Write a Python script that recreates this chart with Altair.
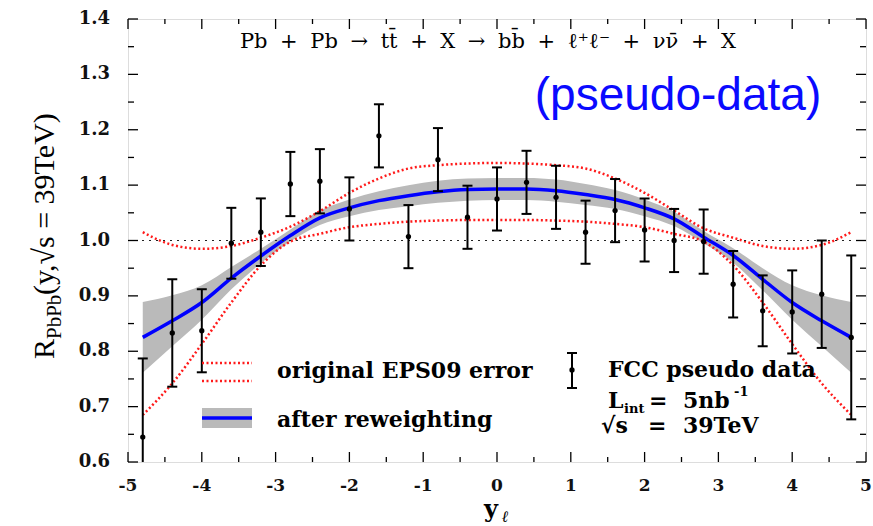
import altair as alt
import pandas as pd

# ---------------- data ----------------
y_pts = [-4.8, -4.4, -4.0, -3.6, -3.2, -2.8, -2.4, -2.0, -1.6, -1.2, -0.8, -0.4,
         0.0, 0.4, 0.8, 1.2, 1.6, 2.0, 2.4, 2.8, 3.2, 3.6, 4.0, 4.4, 4.8]
r_pts = [0.645, 0.833, 0.837, 0.995, 1.015, 1.102, 1.107, 1.057, 1.189, 1.007, 1.146, 1.042,
         1.075, 1.105, 1.078, 1.015, 1.054, 1.019, 1.000, 0.998, 0.921, 0.873, 0.871, 0.903, 0.825]
r_err = [0.142, 0.097, 0.075, 0.064, 0.061, 0.058, 0.058, 0.057, 0.057, 0.057, 0.057, 0.057,
         0.057, 0.057, 0.057, 0.057, 0.057, 0.057, 0.057, 0.058, 0.060, 0.064, 0.075, 0.097, 0.148]

y_curve = [-4.8, -4.4, -4.0, -3.6, -3.2, -2.8, -2.4, -2.0, -1.6, -1.2, -0.8, -0.4,
           0.0, 0.4, 0.8, 1.2, 1.6, 2.0, 2.4, 2.8, 3.2, 3.6, 4.0, 4.4, 4.8]
central = [0.825, 0.855, 0.888, 0.932, 0.972, 1.009, 1.041, 1.059, 1.072, 1.081, 1.088, 1.092,
           1.093, 1.093, 1.090, 1.083, 1.074, 1.059, 1.039, 1.006, 0.973, 0.930, 0.888, 0.855, 0.825]
band_hi = [0.889, 0.901, 0.919, 0.952, 0.985, 1.020, 1.054, 1.074, 1.089, 1.100, 1.108, 1.112,
           1.113, 1.113, 1.110, 1.102, 1.091, 1.074, 1.052, 1.017, 0.986, 0.950, 0.919, 0.901, 0.889]
band_lo = [0.761, 0.809, 0.857, 0.912, 0.959, 0.998, 1.028, 1.044, 1.055, 1.062, 1.068, 1.072,
           1.073, 1.073, 1.070, 1.064, 1.057, 1.044, 1.026, 0.995, 0.960, 0.910, 0.857, 0.809, 0.761]
eps_hi = [1.015, 0.992, 0.985, 0.990, 1.005, 1.025, 1.053, 1.086, 1.112, 1.130, 1.136, 1.139,
          1.140, 1.139, 1.136, 1.130, 1.112, 1.086, 1.054, 1.022, 1.005, 0.990, 0.985, 0.992, 1.015]
eps_lo = [0.685, 0.742, 0.813, 0.888, 0.955, 0.998, 1.012, 1.024, 1.030, 1.034, 1.036, 1.037,
          1.037, 1.037, 1.036, 1.034, 1.030, 1.024, 1.012, 0.998, 0.955, 0.888, 0.813, 0.742, 0.685]

x_major = [-5, -4, -3, -2, -1, 0, 1, 2, 3, 4, 5]
x_labels = ["-5", "-4", "-3", "-2", "-1", "0", "1", "2", "3", "4", "5"]
x_minor = [-4.5, -3.5, -2.5, -1.5, -0.5, 0.5, 1.5, 2.5, 3.5, 4.5]
y_major = [0.6, 0.7, 0.8, 0.9, 1.0, 1.1, 1.2, 1.3, 1.4]
y_labels = ["0.6", "0.7", "0.8", "0.9", "1.0", "1.1", "1.2", "1.3", "1.4"]
y_minor = [0.65, 0.75, 0.85, 0.95, 1.05, 1.15, 1.25, 1.35]

# ---------------- layout ----------------
L, T, W, H = 128, 19, 738, 443
SERIF = "DejaVu Serif"
TIMES = "Liberation Serif"
RED = "#ff1a1a"
GREY = "#bababa"

pts = pd.DataFrame({"x": y_pts, "r": r_pts, "err": r_err})
pts["lo"] = pts["r"] - pts["err"]
pts["hi"] = pts["r"] + pts["err"]
curve = pd.DataFrame({"x": y_curve, "c": central, "bl": band_lo, "bh": band_hi,
                      "el": eps_lo, "eh": eps_hi})

xs = alt.Scale(domain=[-5, 5], nice=False, zero=False)
ys = alt.Scale(domain=[0.6, 1.4], nice=False, zero=False)
Xn = alt.X("x:Q", scale=xs, axis=None)


def Yq(field):
    return alt.Y(field, scale=ys, axis=None)


band = alt.Chart(curve).mark_area(color=GREY, opacity=1, interpolate="monotone", clip=True).encode(
    x=Xn, y=Yq("bl:Q"), y2="bh:Q")
blue = alt.Chart(curve).mark_line(color="#0000ff", strokeWidth=3.5, interpolate="monotone",
                                  clip=True).encode(x=Xn, y=Yq("c:Q"))
red_hi = alt.Chart(curve).mark_line(color=RED, strokeWidth=2.5, strokeDash=[2, 2.5],
                                    interpolate="monotone", clip=True).encode(x=Xn, y=Yq("eh:Q"))
red_lo = alt.Chart(curve).mark_line(color=RED, strokeWidth=2.5, strokeDash=[2, 2.5],
                                    interpolate="monotone", clip=True).encode(x=Xn, y=Yq("el:Q"))

one_df = pd.DataFrame({"v": [1.0]})
unity = alt.Chart(one_df).mark_rule(color="#222", strokeWidth=1, strokeDash=[2, 5]).encode(
    y=Yq("v:Q"), x=alt.value(0), x2=alt.value(W))

bars = alt.Chart(pts).mark_rule(color="black", strokeWidth=2, clip=True).encode(
    x=Xn, y=Yq("lo:Q"), y2="hi:Q")
cap_hi = alt.Chart(pts).mark_tick(color="black", orient="horizontal", size=10, thickness=2,
                                  opacity=1, clip=True).encode(x=Xn, y=Yq("hi:Q"))
cap_lo = alt.Chart(pts).mark_tick(color="black", orient="horizontal", size=10, thickness=2,
                                  opacity=1, clip=True).encode(x=Xn, y=Yq("lo:Q"))
dots = alt.Chart(pts).mark_point(color="black", filled=True, opacity=1, size=28, clip=True).encode(
    x=Xn, y=Yq("r:Q"))

# ---------------- frame ticks (inward) and tick labels ----------------
xmaj = pd.DataFrame({"x": x_major, "lab": x_labels})
xmin = pd.DataFrame({"x": x_minor})
ymaj = pd.DataFrame({"v": y_major, "lab": y_labels})
ymin = pd.DataFrame({"v": y_minor})
tick_layers = []
for df, ln in ((xmaj, 10), (xmin, 5)):
    tick_layers.append(alt.Chart(df).mark_rule(color="black", strokeWidth=1.3).encode(
        x=Xn, y=alt.value(H), y2=alt.value(H - ln)))
    tick_layers.append(alt.Chart(df).mark_rule(color="black", strokeWidth=1.3).encode(
        x=Xn, y=alt.value(0), y2=alt.value(ln)))
for df, ln in ((ymaj, 10), (ymin, 6)):
    tick_layers.append(alt.Chart(df).mark_rule(color="black", strokeWidth=1.3).encode(
        y=Yq("v:Q"), x=alt.value(0), x2=alt.value(ln)))
    tick_layers.append(alt.Chart(df).mark_rule(color="black", strokeWidth=1.3).encode(
        y=Yq("v:Q"), x=alt.value(W), x2=alt.value(W - ln)))

xlab = alt.Chart(xmaj).mark_text(font=SERIF, fontSize=17, fontWeight="bold", color="#111",
                                 align="center", baseline="alphabetic").encode(
    x=Xn, y=alt.value(491 - T), text="lab:N")
ylab = alt.Chart(ymaj).mark_text(font=SERIF, fontSize=18, fontWeight="bold", color="#111",
                                 align="right", baseline="middle", dx=-18).encode(
    y=Yq("v:Q"), x=alt.value(0), text="lab:N")

# ---------------- texts ----------------
one = pd.DataFrame({"a": [0]})


def txt(text, px, py, size, font=SERIF, color="black", weight="normal", angle=0,
        align="left", style="normal"):
    kw = dict(text=text, align=align, baseline="alphabetic", font=font, fontSize=size,
              color=color, fontWeight=weight, fontStyle=style)
    if angle:
        kw["angle"] = angle
    return alt.Chart(one).mark_text(**kw).encode(x=alt.value(px - L), y=alt.value(py - T))


def hline(px1, px2, py, color, width, dash=None):
    kw = dict(color=color, strokeWidth=width)
    if dash:
        kw["strokeDash"] = dash
    return alt.Chart(one).mark_rule(**kw).encode(
        x=alt.value(px1 - L), x2=alt.value(px2 - L), y=alt.value(py - T))


S = "\u2002\u200a"  # wide math-like spacing
title_str = ("Pb" + S + "+" + S + "Pb" + S + "\u2192" + S + "tt\u0304" + S + "+" + S + "X" + S +
             "\u2192" + S + "bb\u0304" + S + "+" + S + "\u2113\u207a\u2113\u207b" + S + "+" + S +
             "\u03bd\u03bd\u0304" + S + "+" + S + "X")

texts = [
    txt(title_str, 488, 48, 21, align="center"),
    txt("(pseudo-data)", 678, 110, 46, font="Liberation Sans", color="#0a0aff", align="center"),
    # y title
    txt("R", 54, 359, 30, font=TIMES, angle=270),
    txt("PbPb", 61, 339, 21, font=TIMES, angle=270),
    txt("(y,\u221as = 39TeV)", 54, 295, 30, font=TIMES, angle=270),
    # x title
    txt("y", 484, 517, 24, weight="bold"),
    txt("\u2113", 502, 522, 16, style="italic", weight="bold"),
    # legend left
    txt("original EPS09 error", 277, 378, 22, weight="bold"),
    txt("after reweighting", 277, 427, 22, weight="bold"),
    # legend right
    txt("FCC pseudo data", 608, 377, 22, weight="bold"),
    txt("L", 608, 408, 22, weight="bold"),
    txt("int", 624, 413, 13, weight="bold"),
    txt("=", 649, 408, 22, weight="bold"),
    txt("5nb", 683, 408, 22, weight="bold"),
    txt("-1", 734, 396, 13, weight="bold"),
    txt("\u221as", 601, 433, 22, weight="bold"),
    txt("=", 648, 433, 22, weight="bold"),
    txt("39TeV", 683, 433, 22, weight="bold"),
]

legend_marks = [
    hline(202, 252, 363, RED, 2.5, [2, 2.5]),
    hline(202, 252, 381, RED, 2.5, [2, 2.5]),
    hline(202, 252, 418, GREY, 20),
    hline(202, 252, 418, "#0000ff", 3.5),
    alt.Chart(one).mark_rule(color="black", strokeWidth=2).encode(
        x=alt.value(572 - L), y=alt.value(353 - T), y2=alt.value(388 - T)),
    hline(567, 577, 353, "black", 2),
    hline(567, 577, 388, "black", 2),
    alt.Chart(one).mark_point(color="black", filled=True, opacity=1, size=28).encode(
        x=alt.value(572 - L), y=alt.value(370 - T)),
]

chart = alt.layer(
    band, red_hi, red_lo, blue, unity, bars, cap_hi, cap_lo, dots,
    *tick_layers, xlab, ylab, *legend_marks, *texts
).properties(
    width=W, height=H,
    autosize=alt.AutoSizeParams(type="none"),
    padding={"left": L, "top": T, "right": 873 - L - W, "bottom": 526 - T - H},
).configure_view(stroke="black", strokeWidth=1.8).configure(background="white")

chart.save("out.html", embed_options={"renderer": "svg", "actions": False})
